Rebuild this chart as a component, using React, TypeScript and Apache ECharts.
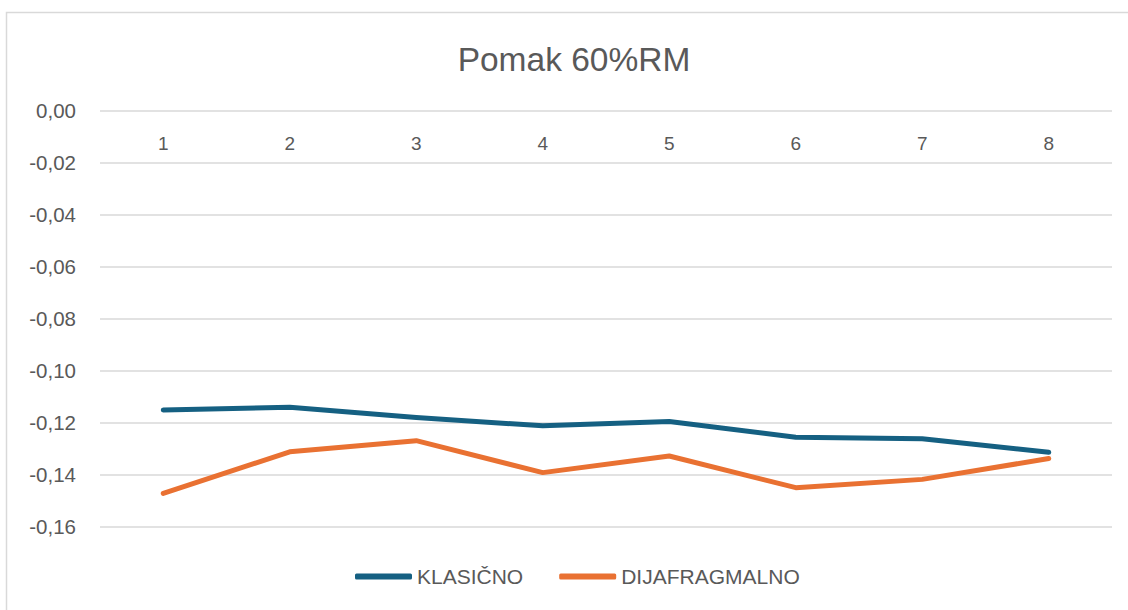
import React, { useEffect, useRef } from "react";
import * as echarts from "echarts";

const categories = ["1", "2", "3", "4", "5", "6", "7", "8"];
const klasicno = [-0.1151, -0.1141, -0.118, -0.1212, -0.1195, -0.1256, -0.1262, -0.1314];
const dijafragmalno = [-0.1472, -0.1312, -0.1269, -0.1392, -0.1328, -0.145, -0.1418, -0.1338];
const seriesNames = ["KLASIČNO", "DIJAFRAGMALNO"];
const titleText = "Pomak 60%RM";

const FONT = "'Liberation Sans', Arial, sans-serif";
const TEXT = "#595959";

export default function App() {
  const ref = useRef<HTMLDivElement>(null);
  useEffect(() => {
    if (!ref.current) return;
    const chart = echarts.init(ref.current, null, { renderer: "svg" });
    chart.setOption({
      animation: false,
      backgroundColor: "#ffffff",
      textStyle: { fontFamily: FONT },
      title: {
        text: titleText,
        left: 569,
        textAlign: "center",
        top: 37,
        textStyle: { fontFamily: FONT, fontSize: 33.5, fontWeight: "normal", color: TEXT },
      },
      graphic: [
        {
          type: "rect",
          shape: { x: 6.5, y: 12.5, width: 1140, height: 620 },
          style: { fill: "none", stroke: "#d9d9d9", lineWidth: 1.5 },
          silent: true,
        },
      ],
      legend: {
        left: 355,
        top: 566,
        padding: 0,
        itemWidth: 57,
        itemHeight: 6,
        itemGap: 36,
        icon: "roundRect",
        data: seriesNames,
        textStyle: { fontFamily: FONT, fontSize: 21, color: TEXT },
      },
      grid: { left: 100, right: 16, top: 110.7, bottom: 83.3, containLabel: false },
      xAxis: {
        type: "category",
        data: categories,
        position: "top",
        boundaryGap: true,
        axisLine: { show: false },
        axisTick: { show: false },
        axisLabel: { inside: true, margin: 23, fontFamily: FONT, fontSize: 19, color: TEXT },
      },
      yAxis: {
        type: "value",
        min: -0.16,
        max: 0,
        interval: 0.02,
        axisLine: { show: false },
        axisTick: { show: false },
        axisLabel: {
          margin: 24,
          fontFamily: FONT,
          fontSize: 20.5,
          color: TEXT,
          formatter: (v: number) => (Math.abs(v) < 1e-9 ? "0,00" : v.toFixed(2).replace(".", ",")),
        },
        splitLine: { lineStyle: { color: "#d9d9d9", width: 1.5 } },
      },
      series: [
        {
          name: seriesNames[0],
          type: "line",
          data: klasicno,
          symbol: "none",
          color: "#156082",
          lineStyle: { width: 5, color: "#156082", cap: "round", join: "round" },
        },
        {
          name: seriesNames[1],
          type: "line",
          data: dijafragmalno,
          symbol: "none",
          color: "#E97132",
          lineStyle: { width: 5, color: "#E97132", cap: "round", join: "round" },
        },
      ],
    });
    return () => chart.dispose();
  }, []);
  return (
    <div
      ref={ref}
      style={{ position: "fixed", left: 0, top: 0, width: 1128, height: 610 }}
    />
  );
}
